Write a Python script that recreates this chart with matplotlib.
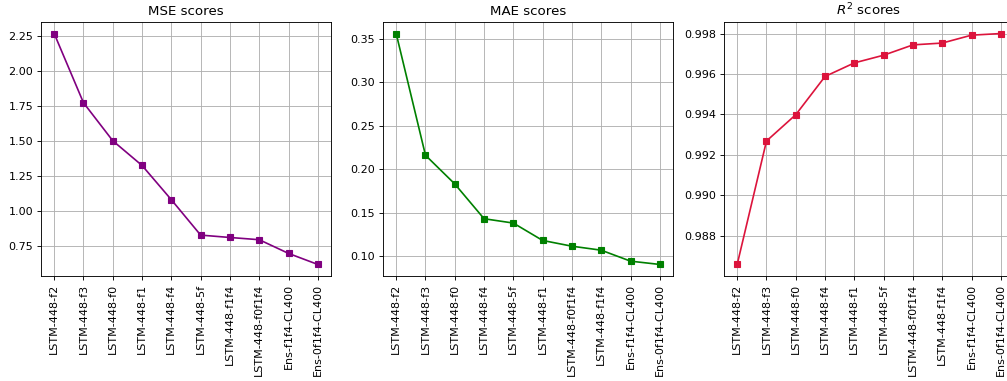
import matplotlib
matplotlib.use('Agg')
import matplotlib.pyplot as plt

# model names, ordered by score in each panel
mse_models = ["LSTM-448-f2", "LSTM-448-f3", "LSTM-448-f0", "LSTM-448-f1", "LSTM-448-f4",
              "LSTM-448-5f", "LSTM-448-f1f4", "LSTM-448-f0f1f4", "Ens-f1f4-CL400", "Ens-0f1f4-CL400"]
mse_scores = [2.271, 1.776, 1.504, 1.327, 1.082, 0.829, 0.812, 0.796, 0.698, 0.619]

mae_models = ["LSTM-448-f2", "LSTM-448-f3", "LSTM-448-f0", "LSTM-448-f4", "LSTM-448-5f",
              "LSTM-448-f1", "LSTM-448-f0f1f4", "LSTM-448-f1f4", "Ens-f1f4-CL400", "Ens-0f1f4-CL400"]
mae_scores = [0.356, 0.216, 0.183, 0.143, 0.138, 0.118, 0.1114, 0.1068, 0.0942, 0.0904]

r2_models = ["LSTM-448-f2", "LSTM-448-f3", "LSTM-448-f0", "LSTM-448-f4", "LSTM-448-f1",
             "LSTM-448-5f", "LSTM-448-f0f1f4", "LSTM-448-f1f4", "Ens-f1f4-CL400", "Ens-0f1f4-CL400"]
r2_scores = [0.98659, 0.99269, 0.99399, 0.99588, 0.99655, 0.99693, 0.99744, 0.99753, 0.99792, 0.99800]

DPI = 80
W, H = 1007.0, 381.0
fig = plt.figure(figsize=(W / DPI, H / DPI), dpi=DPI)
lefts = [41, 383, 724]
ax = [fig.add_axes([l / W, (H - 276) / H, 290 / W, 254 / H]) for l in lefts]

panels = [
    (mse_models, mse_scores, "purple", "MSE scores"),
    (mae_models, mae_scores, "green", "MAE scores"),
    (r2_models, r2_scores, "crimson", "$R^2$ scores"),
]
for a, (names, vals, col, title) in zip(ax, panels):
    a.plot(names, vals, marker="s", color=col)
    a.set_title(title)
    a.grid(True)
    a.tick_params(axis="x", labelrotation=90)

plt.savefig("out.png", dpi=DPI)
